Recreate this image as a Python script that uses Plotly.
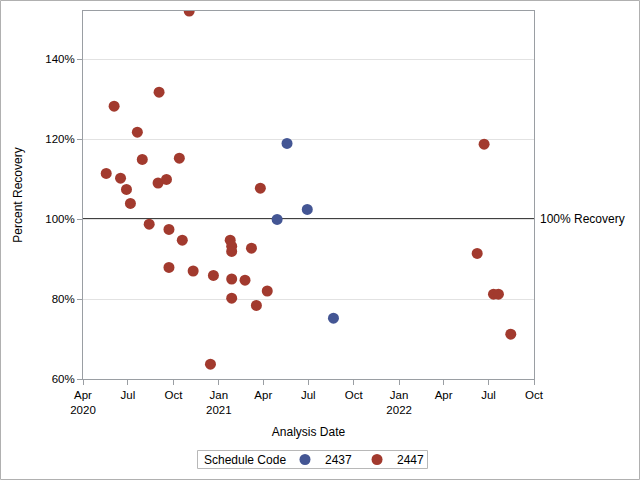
import plotly.graph_objects as go

dates_2437 = ["2021-04-29", "2021-05-19", "2021-06-29", "2021-08-21"]
pct_2437 = [99.9, 118.9, 102.4, 75.2]

dates_2447 = [
    "2020-05-18", "2020-06-03", "2020-06-16", "2020-06-28", "2020-07-06",
    "2020-07-20", "2020-07-30", "2020-08-13", "2020-08-31", "2020-09-02",
    "2020-09-17", "2020-09-22", "2020-09-22", "2020-10-13", "2020-10-19",
    "2020-11-02", "2020-11-10", "2020-12-15", "2020-12-21", "2021-01-24",
    "2021-01-27", "2021-01-27", "2021-01-27", "2021-01-27", "2021-02-23",
    "2021-03-08", "2021-03-18", "2021-03-26", "2021-04-09", "2022-06-08",
    "2022-06-22", "2022-07-11", "2022-07-21", "2022-08-15",
]
pct_2447 = [
    111.4, 128.2, 110.2, 107.4, 103.9,
    121.7, 114.9, 98.7, 109.0, 131.7,
    109.9, 97.4, 87.9, 115.2, 94.7,
    152.0, 87.0, 63.7, 85.9, 94.7,
    93.2, 91.9, 85.0, 80.2, 84.7,
    92.7, 78.4, 107.7, 82.0, 91.4,
    118.7, 81.2, 81.2, 71.2,
]

x_tickvals = ["2020-04-01", "2020-07-01", "2020-10-01", "2021-01-01", "2021-04-01",
              "2021-07-01", "2021-10-01", "2022-01-01", "2022-04-01", "2022-07-01",
              "2022-10-01"]
x_ticktext = ["Apr<br>2020", "Jul", "Oct", "Jan<br>2021", "Apr", "Jul", "Oct",
              "Jan<br>2022", "Apr", "Jul", "Oct"]
y_tickvals = [60, 80, 100, 120, 140]
y_ticktext = ["60%", "80%", "100%", "120%", "140%"]

reference_value = 100
reference_label = "100% Recovery"
legend_title = "Schedule Code"

BLUE = "#445694"
RED = "#A23A2E"
FONT = "Liberation Sans, Arial, sans-serif"
AXIS = "#9a9ea3"

fig = go.Figure()
fig.add_trace(go.Scatter(x=dates_2437, y=pct_2437, mode="markers", name="2437",
                         marker=dict(color=BLUE, size=11)))
fig.add_trace(go.Scatter(x=dates_2447, y=pct_2447, mode="markers", name="2447",
                         marker=dict(color=RED, size=11)))

L, R, T, B = 83, 106, 11, 101
W, H = 640, 480
pw, ph = W - L - R, H - T - B


def px_x(p):
    return (p - L) / pw


def px_y(p):
    return (ph + T - p) / ph


fig.add_hline(y=reference_value, line=dict(color="black", width=1.3), layer="below")
fig.add_annotation(x=1, xref="paper", y=reference_value, yref="y", text=reference_label,
                   showarrow=False, xanchor="left", xshift=4,
                   font=dict(family=FONT, size=12, color="black"))

# outer frame of the image
fig.add_shape(type="rect", xref="paper", yref="paper",
              x0=px_x(0.5), x1=px_x(W - 0.5), y0=px_y(H - 0.5), y1=px_y(0.5),
              line=dict(color="#b0b0b0", width=1), layer="below")

# legend frame and title
fig.add_shape(type="rect", xref="paper", yref="paper",
              x0=px_x(197.5), x1=px_x(427.5), y0=px_y(468.5), y1=px_y(450.5),
              line=dict(color="#b8b8b8", width=1), layer="below")
fig.add_annotation(x=px_x(202), xref="paper", y=px_y(459.5), yref="paper",
                   text=legend_title, showarrow=False, xanchor="left", yanchor="middle",
                   font=dict(family=FONT, size=12, color="black"))

fig.update_layout(
    width=W, height=H,
    margin=dict(l=L, r=R, t=T, b=B, autoexpand=False),
    paper_bgcolor="white", plot_bgcolor="white",
    font=dict(family=FONT, size=12, color="black"),
    showlegend=True,
    legend=dict(orientation="h", x=px_x(285), xanchor="left",
                y=px_y(459.5), yanchor="middle",
                bgcolor="rgba(0,0,0,0)", borderwidth=0, font=dict(size=12),
                itemwidth=30, tracegroupgap=0),
    xaxis=dict(type="date", range=["2020-04-01", "2022-10-01"],
               tickvals=x_tickvals, ticktext=x_ticktext, tickangle=0,
               tickfont=dict(size=11.5),
               showgrid=False, showline=True, linecolor=AXIS, mirror=True,
               ticks="outside", ticklen=5, tickcolor=AXIS, automargin=False,
               title=dict(text="Analysis Date", standoff=12, font=dict(size=12)),
               zeroline=False),
    yaxis=dict(range=[60, 152], tickvals=y_tickvals, ticktext=y_ticktext,
               tickfont=dict(size=11.5),
               showgrid=True, gridcolor="#e2e2e2", showline=True, linecolor=AXIS,
               mirror=True, ticks="outside", ticklen=5, tickcolor=AXIS, automargin=False,
               title=dict(text="Percent Recovery", standoff=20, font=dict(size=12)),
               zeroline=False),
)

fig.write_html("out.html", config={"displayModeBar": False},
               post_script="document.body.style.margin='0';document.body.style.overflow='hidden';")
